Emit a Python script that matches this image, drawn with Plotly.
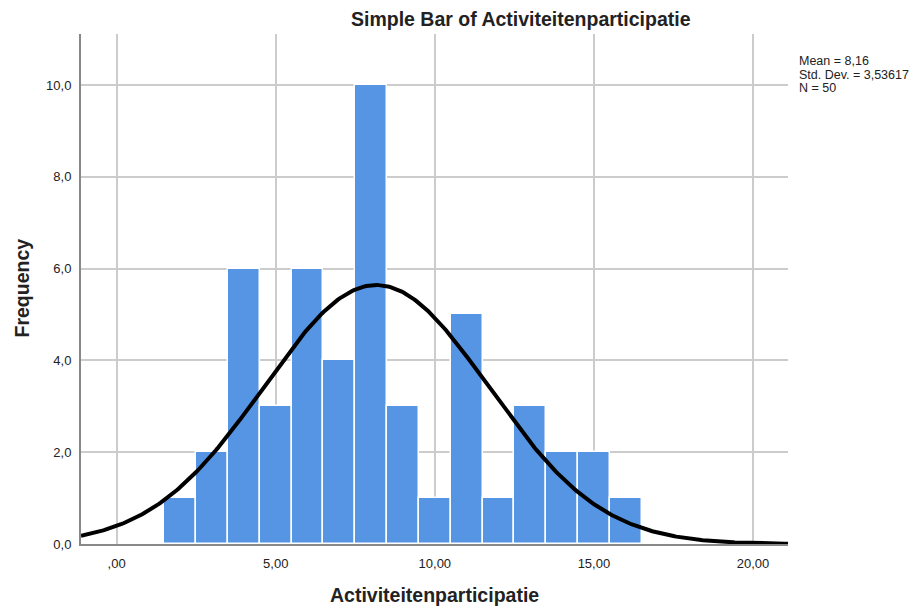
import numpy as np
import plotly.graph_objects as go

# Data
bin_centers = [2, 3, 4, 5, 6, 7, 8, 9, 10, 11, 12, 13, 14, 15, 16]
frequencies = [1, 2, 6, 3, 6, 4, 10, 3, 1, 5, 1, 3, 2, 2, 1]
mean_val = 8.16
sd_val = 3.53617
n_val = 50
x_tick_vals = [0, 5, 10, 15, 20]
x_tick_text = [",00", "5,00", "10,00", "15,00", "20,00"]
y_tick_vals = [0, 2, 4, 6, 8, 10]
y_tick_text = ["0,0", "2,0", "4,0", "6,0", "8,0", "10,0"]
stats_lines = ["Mean = 8,16", "Std. Dev. = 3,53617", "N = 50"]

x_min, x_max = -1.12, 21.1
y_max = 11.11

# normal curve scaled to the histogram (bin width 1)
xc = np.linspace(x_min, x_max, 400)
yc = n_val * 1.0 / (sd_val * np.sqrt(2 * np.pi)) * np.exp(-0.5 * ((xc - mean_val) / sd_val) ** 2)

fig = go.Figure()
fig.add_trace(go.Bar(
    x=bin_centers, y=frequencies, width=1,
    marker=dict(color="#5595E3", line=dict(color="white", width=1.5)),
    showlegend=False, hoverinfo="x+y"))
fig.add_trace(go.Scatter(
    x=xc, y=yc, mode="lines", line=dict(color="black", width=4),
    showlegend=False, hoverinfo="skip"))

# screen geometry of the plot area (page has 8px body margin)
P_L, P_R, P_T, P_B = 81, 788, 34, 544
OFF = 8
W, H = 919 - OFF, 609 - OFF
PW, PH = P_R - P_L, P_B - P_T


def px(xs):
    return (xs - P_L) / PW


def py(ys):
    return (P_B - ys) / PH


font_family = "Liberation Sans, Arial, sans-serif"
txt = "#222222"
annotations = [
    dict(text="<b>Simple Bar of Activiteitenparticipatie</b>", xref="paper", yref="paper",
         x=px(521), y=py(18.5), xanchor="center", yanchor="middle",
         showarrow=False, font=dict(size=19.5, color=txt)),
    dict(text="<b>Frequency</b>", xref="paper", yref="paper", textangle=-90,
         x=px(21), y=py(288.5), xanchor="center", yanchor="middle",
         showarrow=False, font=dict(size=19.5, color=txt)),
    dict(text="<b>Activiteitenparticipatie</b>", xref="paper", yref="paper",
         x=px(434.5), y=py(595), xanchor="center", yanchor="middle",
         showarrow=False, font=dict(size=19.5, color=txt)),
]
for i, line in enumerate(stats_lines):
    annotations.append(dict(text=line, xref="paper", yref="paper",
                            x=px(797), y=py(60.5 + 14 * i), xanchor="left", yanchor="middle",
                            align="left", showarrow=False, font=dict(size=12.5, color=txt)))

fig.update_layout(
    width=W, height=H,
    margin=dict(l=P_L - OFF, r=W - (P_R - OFF), t=P_T - OFF, b=H - (P_B - OFF)),
    plot_bgcolor="white", paper_bgcolor="white",
    font=dict(family=font_family, size=13, color=txt),
    bargap=0,
    xaxis=dict(range=[x_min, x_max], tickvals=x_tick_vals, ticktext=x_tick_text,
               showgrid=True, gridcolor="#cccccc", gridwidth=1.5,
               showline=True, linecolor="#888888", linewidth=2,
               zeroline=False, ticks="", ticklen=0, ticklabelstandoff=6,
               automargin=False, tickfont=dict(size=13, color=txt)),
    yaxis=dict(range=[0, y_max], tickvals=y_tick_vals, ticktext=y_tick_text,
               showgrid=True, gridcolor="#cccccc", gridwidth=1.5,
               showline=True, linecolor="#888888", linewidth=2,
               zeroline=False, ticks="", ticklen=0, ticklabelstandoff=5,
               automargin=False, tickfont=dict(size=13, color=txt)),
    annotations=annotations,
)

fig.write_html("out.html")
